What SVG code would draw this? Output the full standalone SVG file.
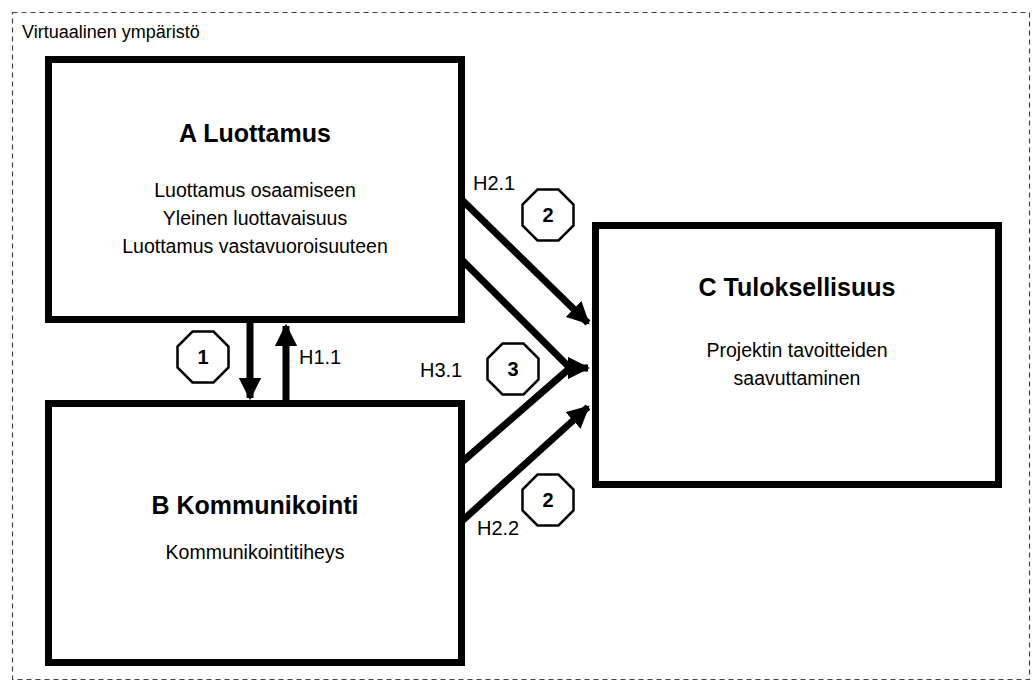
<svg xmlns="http://www.w3.org/2000/svg" width="1033" height="685" viewBox="0 0 1033 685">
<style>
.box{fill:#fff;stroke:#000;stroke-width:7}
.t{font-family:"Liberation Sans",Arial,sans-serif;fill:#000}
.title{font-size:25px;font-weight:bold;text-anchor:middle}
.body{font-size:19.5px;text-anchor:middle}
.lbl{font-size:20px}
.oct{fill:#fff;stroke:#000;stroke-width:2.5}
.num{font-size:20px;font-weight:bold;text-anchor:middle}
.arr{stroke:#000;stroke-width:7;fill:none}
</style>
<defs>
<marker id="ah" viewBox="0 0 10 10" refX="9" refY="5" markerWidth="3.2" markerHeight="3.2" orient="auto" markerUnits="strokeWidth">
<path d="M0,0 L10,5 L0,10 z" fill="#000"/>
</marker>
<polygon id="octagon" points="-10.5,-25.5 10.5,-25.5 25.5,-10.5 25.5,10.5 10.5,25.5 -10.5,25.5 -25.5,10.5 -25.5,-10.5"/>
</defs>
<rect x="0" y="0" width="1033" height="685" fill="#fff"/>
<rect id="env" x="12.5" y="12.5" width="1017" height="667" fill="none" stroke="#444" stroke-width="1.2" stroke-dasharray="5,4"/>
<text class="t" x="22" y="38" font-size="18">Virtuaalinen ympäristö</text>
<g id="nodeA">
<rect class="box" x="48.5" y="59.5" width="413" height="260"/>
<text class="t title" x="255" y="142">A Luottamus</text>
<text class="t body" x="255" y="197">Luottamus osaamiseen</text>
<text class="t body" x="255" y="225">Yleinen luottavaisuus</text>
<text class="t body" x="255" y="253">Luottamus vastavuoroisuuteen</text>
</g>
<g id="nodeB">
<rect class="box" x="48.5" y="403.5" width="413" height="259"/>
<text class="t title" x="255" y="514">B Kommunikointi</text>
<text class="t body" x="255" y="559">Kommunikointitiheys</text>
</g>
<g id="nodeC">
<rect class="box" x="595.5" y="225.5" width="403" height="259"/>
<text class="t title" x="797" y="296">C Tuloksellisuus</text>
<text class="t body" x="797" y="357">Projektin tavoitteiden</text>
<text class="t body" x="797" y="385">saavuttaminen</text>
</g>
<g id="connectors">
<line class="arr" x1="250" y1="320" x2="250" y2="398" marker-end="url(#ah)"/>
<line class="arr" x1="286" y1="403" x2="286" y2="326" marker-end="url(#ah)"/>
<line class="arr" x1="462" y1="200" x2="588" y2="323" marker-end="url(#ah)"/>
<polyline class="arr" points="462,260 570,368 462,462"/>
<line class="arr" x1="568" y1="368" x2="588" y2="368" marker-end="url(#ah)"/>
<line class="arr" x1="462" y1="521" x2="588" y2="407" marker-end="url(#ah)"/>
</g>
<g id="labels">
<text class="t lbl" x="473" y="190">H2.1</text>
<text class="t lbl" x="299" y="364">H1.1</text>
<text class="t lbl" x="420" y="377">H3.1</text>
<text class="t lbl" x="477" y="535">H2.2</text>
</g>
<g id="oct1"><use href="#octagon" class="oct" x="203" y="357"/><text class="t num" x="203" y="364">1</text></g>
<g id="oct2a"><use href="#octagon" class="oct" x="548" y="215"/><text class="t num" x="548" y="222">2</text></g>
<g id="oct3"><use href="#octagon" class="oct" x="513" y="369"/><text class="t num" x="513" y="376">3</text></g>
<g id="oct2b"><use href="#octagon" class="oct" x="548" y="500"/><text class="t num" x="548" y="507">2</text></g>
</svg>
